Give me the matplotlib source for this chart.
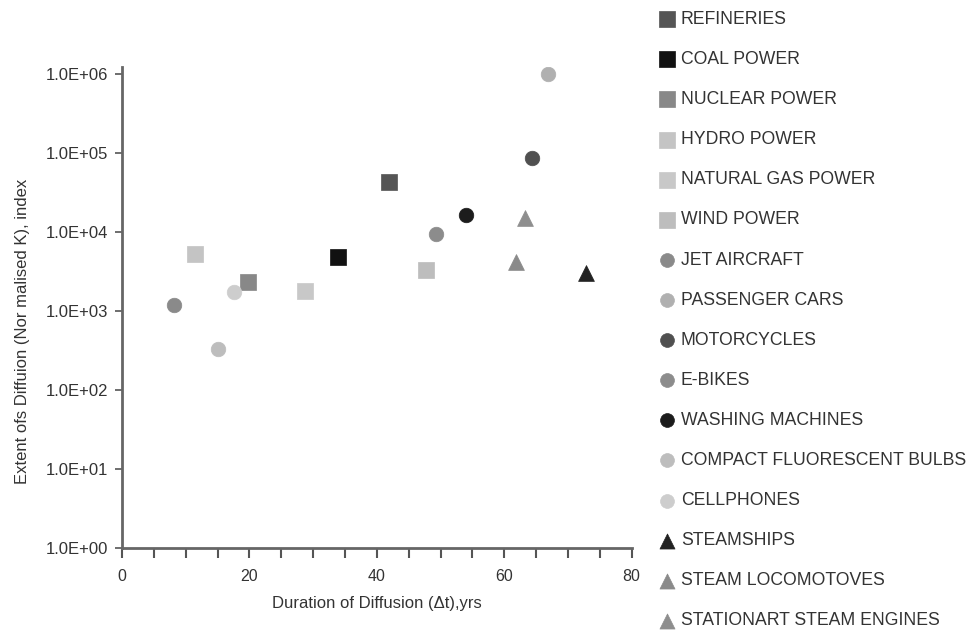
import matplotlib
matplotlib.use('Agg')
import matplotlib.pyplot as plt
from matplotlib.ticker import FixedLocator, FuncFormatter
import numpy as np

plt.rcParams['font.family'] = ['Liberation Sans', 'DejaVu Sans']

# technology names, legend order
names = ['REFINERIES', 'COAL POWER', 'NUCLEAR POWER', 'HYDRO POWER',
         'NATURAL GAS POWER', 'WIND POWER', 'JET AIRCRAFT', 'PASSENGER CARS',
         'MOTORCYCLES', 'E-BIKES', 'WASHING MACHINES',
         'COMPACT FLUORESCENT BULBS', 'CELLPHONES', 'STEAMSHIPS',
         'STEAM LOCOMOTOVES', 'STATIONART STEAM ENGINES']
# duration of diffusion (yrs)
duration = [41.9, 33.9, 19.8, 11.5, 28.8, 47.7, 8.2, 66.9,
            64.3, 49.3, 54.0, 15.1, 17.6, 72.8, 61.9, 63.3]
# extent of diffusion (index)
extent = [4.3e4, 4.8e3, 2.3e3, 5.2e3, 1.8e3, 3.3e3, 1.2e3, 1.0e6,
          8.5e4, 9.5e3, 1.65e4, 3.3e2, 1.75e3, 3.0e3, 4.2e3, 1.5e4]

markers = ['s'] * 6 + ['o'] * 7 + ['^'] * 3
colors = ['#555555', '#111111', '#888888', '#c4c4c4', '#c8c8c8', '#bdbdbd',
          '#8a8a8a', '#b0b0b0', '#505050', '#8c8c8c', '#1c1c1c', '#bdbdbd',
          '#cdcdcd', '#222222', '#8a8a8a', '#8e8e8e']
sizes = {'s': 140, 'o': 110, '^': 130}

fig = plt.figure(figsize=(9.8, 6.35), dpi=100)
ax = fig.add_axes([0.1245, 0.137, 0.52, 0.757])

handles = []
for i in range(len(names)):
    h = ax.scatter(duration[i], extent[i], marker=markers[i], s=sizes[markers[i]],
                   color=colors[i], edgecolors=colors[i], linewidths=0.5, zorder=3)
    handles.append(h)

ax.set_yscale('log')
ax.set_ylim(1, 10 ** 6.08)
ax.set_xlim(0, 80)
ax.yaxis.set_major_locator(FixedLocator([10.0 ** k for k in range(7)]))
ax.yaxis.set_minor_locator(FixedLocator([]))
ax.yaxis.set_major_formatter(FuncFormatter(lambda v, p: '1.0E+%02d' % int(round(np.log10(v)))))
ax.set_xticks([0, 20, 40, 60, 80])
ax.set_xticks(np.arange(0, 81, 5), minor=True)

for s in ['top', 'right']:
    ax.spines[s].set_visible(False)
for s in ['left', 'bottom']:
    ax.spines[s].set_color('#666666')
    ax.spines[s].set_linewidth(2)

ax.tick_params(axis='x', which='both', direction='out', length=7, width=1.5,
               color='#555555', labelsize=11.5, labelcolor='#333333', pad=8)
ax.tick_params(axis='y', which='major', direction='out', length=5, width=1.2,
               color='#555555', labelsize=12, labelcolor='#333333', pad=5)

ax.set_xlabel('Duration of Diffusion (\u0394t),yrs', fontsize=12, color='#333333', labelpad=9)
ax.set_ylabel('Extent ofs Diffuion (Nor malised K), index', fontsize=12, color='#333333')
ax.yaxis.set_label_coords(-0.18, 0.45)

leg = fig.legend(handles, names, loc='upper left', bbox_to_anchor=(0.665, 0.994),
                 frameon=False, fontsize=12.7, labelspacing=1.31, handlelength=0.9,
                 handletextpad=0.35, borderaxespad=0, scatterpoints=1, markerscale=0.95)
for t in leg.get_texts():
    t.set_color('#333333')

fig.savefig('out.png', dpi=100)
